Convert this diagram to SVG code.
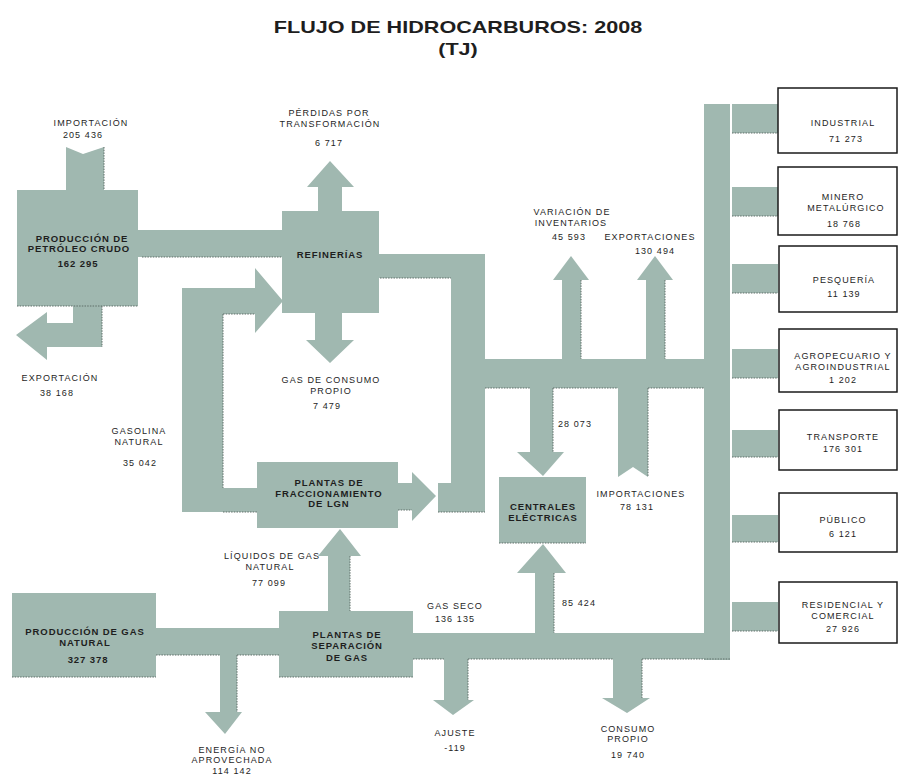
<svg xmlns="http://www.w3.org/2000/svg" width="899" height="776" viewBox="0 0 899 776">
<style>
.f{fill:#a0b8b0;stroke:none}
.sh{fill:none;stroke:#5e6e68;stroke-width:1;stroke-dasharray:1.5 1.2}
.bx{fill:#fff;stroke:#1a1a1a;stroke-width:1.5}
text{font-family:"Liberation Sans",Arial,sans-serif;fill:#1e1e1e;text-anchor:middle}
.t{font-size:9px;letter-spacing:1.1px}
.b{font-size:9.5px;font-weight:bold;letter-spacing:0.9px}
.ti{font-size:16px;font-weight:bold}
</style>
<rect width="899" height="776" fill="#fff"/>
<g id="title">
<text class="ti" transform="translate(458,33) scale(1.35,1)">FLUJO DE HIDROCARBUROS: 2008</text>
<text class="ti" transform="translate(458,55) scale(1.35,1)">(TJ)</text>
</g>
<g id="connectors">
<polygon class="f" points="66,147 83,154 104,147 104,190 66,190"/>
<polygon class="f" points="73,306 102,306 102,347 47,347 47,360 16,335 47,312 47,323 73,323"/>
<rect class="f" x="138" y="230" width="145" height="27"/>
<polygon class="f" points="318,211 318,187 307,187 330,161 354,187 342,187 342,211"/>
<polygon class="f" points="315,313 315,340 306,340 330,363 354,340 342,340 342,313"/>
<polygon class="f" points="182,288 255,288 255,268 283,301 255,333 255,314 223,314 223,488 257,488 257,512 182,512"/>
<polygon class="f" points="379,254 485,254 485,512 438,512 438,483 451,483 451,278 379,278"/>
<polygon class="f" points="398,483 412,483 412,472 436,496 412,521 412,510 398,510"/>
<rect class="f" x="485" y="359" width="219" height="29"/>
<polygon class="f" points="562,359 562,280 553,280 571,256 589,280 581,280 581,359"/>
<polygon class="f" points="646,359 646,280 637,280 655,256 673,280 665,280 665,359"/>
<polygon class="f" points="530,388 530,452 517,452 543,476 564,452 553,452 553,388"/>
<polygon class="f" points="618,388 648,388 648,477 633,467 618,477"/>
<rect class="f" x="704" y="104" width="26" height="556"/>
<rect class="f" x="732" y="104" width="46" height="29"/>
<rect class="f" x="732" y="187" width="46" height="29"/>
<rect class="f" x="732" y="264" width="46" height="29"/>
<rect class="f" x="732" y="349" width="46" height="29"/>
<rect class="f" x="732" y="430" width="46" height="27"/>
<rect class="f" x="732" y="515" width="46" height="27"/>
<rect class="f" x="732" y="602" width="46" height="29"/>
<rect class="f" x="413" y="633" width="291" height="26"/>
<polygon class="f" points="535,633 535,573 517,573 543,544 566,573 554,573 554,633"/>
<polygon class="f" points="613,659 613,698 602,698 627,713 650,698 642,698 642,659"/>
<polygon class="f" points="444,659 444,700 433,700 453,715 474,700 468,700 468,659"/>
<rect class="f" x="156" y="628" width="123" height="27"/>
<polygon class="f" points="220,655 220,712 205,712 225,734 242,712 237,712 237,655"/>
<polygon class="f" points="328,611 328,556 318,556 340,529 361,556 350,556 350,611"/>
<path class="sh" d="M104,147V190 M142,257H283 M102,306V347 M223,314V488 M223,314H255 M223,512H257 M380,278H451 M438,512H485 M398,510H412 M485,388H530 M553,388H618 M648,388V477 M648,388H704 M581,280V359 M665,280V359 M553,388V452 M554,573V633 M413,659H444 M468,659H613 M642,659H730 M642,659V698 M468,659V700 M156,655H220 M237,655H279 M237,655V712 M350,556V611 M732,133H778 M732,216H778 M732,293H778 M732,378H778 M732,457H778 M732,542H778 M732,631H778"/>
</g>
<g id="crude">
<rect class="f" x="17" y="190" width="121" height="116"/>
<path class="sh" d="M17,306H138"/>
<text class="b" x="82" y="241.5">PRODUCCIÓN DE</text>
<text class="b" x="79" y="251.5">PETRÓLEO CRUDO</text>
<text class="b" x="78" y="266.5">162 295</text>
</g>
<g id="refinery">
<rect class="f" x="282" y="211" width="97" height="102"/>
<text class="b" x="330" y="257.5">REFINERÍAS</text>
</g>
<g id="fraccionamiento">
<rect class="f" x="257" y="462" width="141" height="66"/>
<text class="b" x="329" y="485.5">PLANTAS DE</text>
<text class="b" x="329" y="496.5">FRACCIONAMIENTO</text>
<text class="b" x="329" y="507">DE LGN</text>
</g>
<g id="centrales">
<rect class="f" x="499" y="477" width="87" height="66"/>
<path class="sh" d="M499,543H586"/>
<text class="b" x="543" y="509.5">CENTRALES</text>
<text class="b" x="543" y="520.5">ELÉCTRICAS</text>
</g>
<g id="gas-prod">
<rect class="f" x="12" y="593" width="144" height="84"/>
<path class="sh" d="M12,677H156"/>
<text class="b" x="85" y="635">PRODUCCIÓN DE GAS</text>
<text class="b" x="85" y="646">NATURAL</text>
<text class="b" x="88" y="662.5">327 378</text>
</g>
<g id="gas-sep">
<rect class="f" x="279" y="611" width="134" height="66"/>
<path class="sh" d="M279,677H413"/>
<text class="b" x="347" y="638">PLANTAS DE</text>
<text class="b" x="347" y="648.5">SEPARACIÓN</text>
<text class="b" x="347" y="660.5">DE GAS</text>
</g>
<g id="industrial">
<rect class="bx" x="778" y="88" width="119" height="65"/>
<text class="t" x="843" y="125.5">INDUSTRIAL</text>
<text class="t" x="846" y="141.5">71 273</text>
</g>
<g id="minero">
<rect class="bx" x="778" y="167" width="119" height="68"/>
<text class="t" x="843" y="200">MINERO</text>
<text class="t" x="846" y="210.5">METALÚRGICO</text>
<text class="t" x="844" y="226.5">18 768</text>
</g>
<g id="pesqueria">
<rect class="bx" x="779" y="246" width="118" height="66"/>
<text class="t" x="844" y="282.5">PESQUERÍA</text>
<text class="t" x="844" y="296.5">11 139</text>
</g>
<g id="agro">
<rect class="bx" x="779" y="329" width="118" height="63"/>
<text class="t" x="843" y="358.5">AGROPECUARIO Y</text>
<text class="t" x="843" y="370">AGROINDUSTRIAL</text>
<text class="t" x="843" y="383">1 202</text>
</g>
<g id="transporte">
<rect class="bx" x="779" y="410" width="118" height="60"/>
<text class="t" x="843" y="440">TRANSPORTE</text>
<text class="t" x="843" y="452">176 301</text>
</g>
<g id="publico">
<rect class="bx" x="779" y="493" width="118" height="59"/>
<text class="t" x="843" y="522.5">PÚBLICO</text>
<text class="t" x="843" y="536.5">6 121</text>
</g>
<g id="residencial">
<rect class="bx" x="779" y="582" width="118" height="61"/>
<text class="t" x="843" y="608">RESIDENCIAL Y</text>
<text class="t" x="843" y="618.5">COMERCIAL</text>
<text class="t" x="843" y="631.5">27 926</text>
</g>
<g id="labels">
<text class="t" x="91" y="125.5">IMPORTACIÓN</text>
<text class="t" x="83" y="137.5">205 436</text>
<text class="t" x="60" y="380.5">EXPORTACIÓN</text>
<text class="t" x="57" y="395.5">38 168</text>
<text class="t" x="139" y="434">GASOLINA</text>
<text class="t" x="139" y="444.5">NATURAL</text>
<text class="t" x="140" y="465.5">35 042</text>
<text class="t" x="329" y="116">PÉRDIDAS POR</text>
<text class="t" x="330" y="126.5">TRANSFORMACIÓN</text>
<text class="t" x="329" y="145.5">6 717</text>
<text class="t" x="331" y="383">GAS DE CONSUMO</text>
<text class="t" x="331" y="393.5">PROPIO</text>
<text class="t" x="327" y="408.5">7 479</text>
<text class="t" x="572" y="215">VARIACIÓN DE</text>
<text class="t" x="571" y="225.5">INVENTARIOS</text>
<text class="t" x="569" y="239.5">45 593</text>
<text class="t" x="650" y="239.5">EXPORTACIONES</text>
<text class="t" x="655" y="253.5">130 494</text>
<text class="t" x="575" y="426.5">28 073</text>
<text class="t" x="641" y="496.5">IMPORTACIONES</text>
<text class="t" x="637" y="509.5">78 131</text>
<text class="t" x="579" y="605.5">85 424</text>
<text class="t" x="455" y="609">GAS SECO</text>
<text class="t" x="455" y="621.5">136 135</text>
<text class="t" x="272" y="559">LÍQUIDOS DE GAS</text>
<text class="t" x="270" y="569.5">NATURAL</text>
<text class="t" x="269" y="585.5">77 099</text>
<text class="t" x="232" y="752.5">ENERGÍA NO</text>
<text class="t" x="232" y="763">APROVECHADA</text>
<text class="t" x="232" y="773.5">114 142</text>
<text class="t" x="455" y="735.5">AJUSTE</text>
<text class="t" x="455" y="750.5">-119</text>
<text class="t" x="628" y="731.5">CONSUMO</text>
<text class="t" x="628" y="742">PROPIO</text>
<text class="t" x="628" y="757.5">19 740</text>
</g>
</svg>
